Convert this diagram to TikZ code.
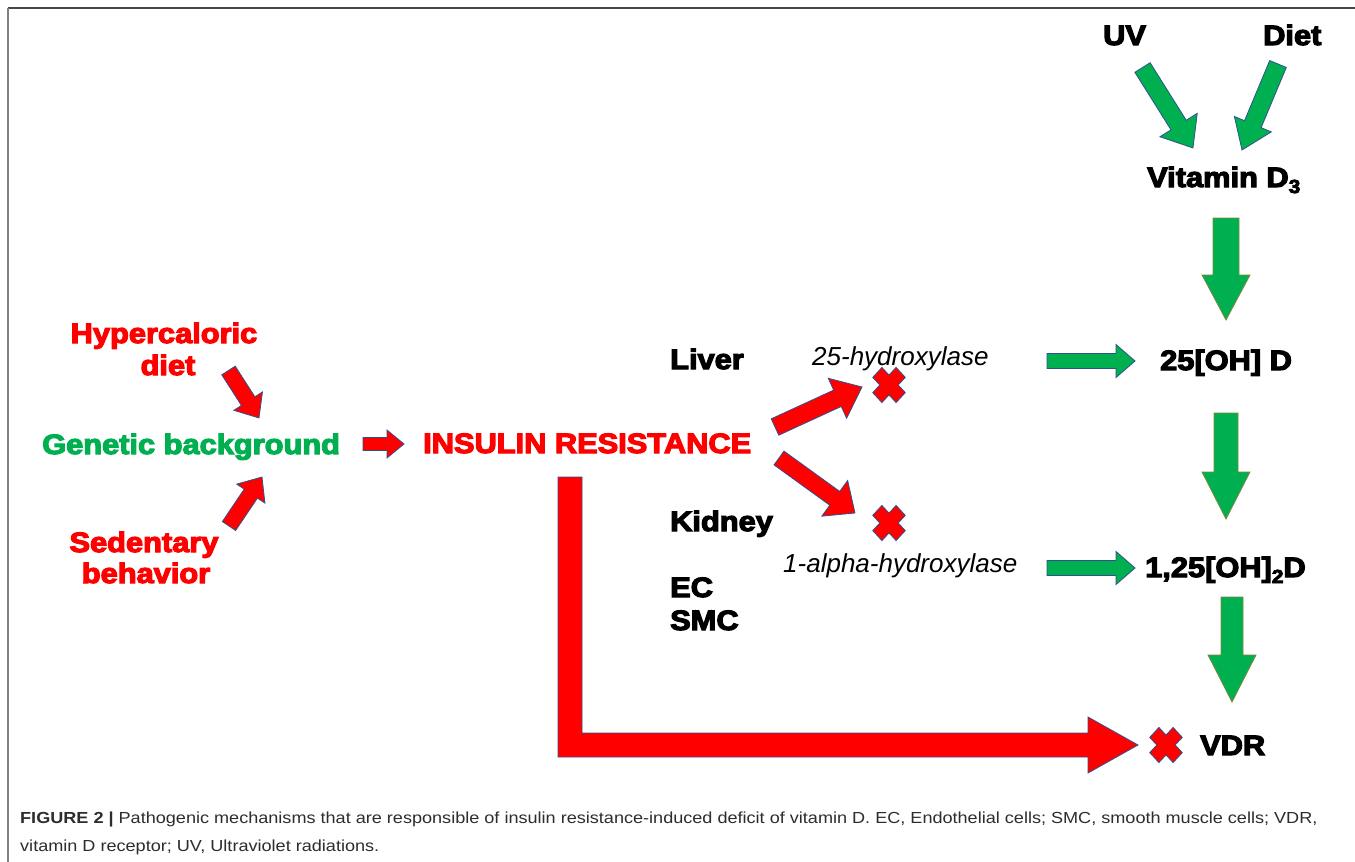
\documentclass[tikz,border=0pt]{standalone}
\usepackage{fontspec}
\setmainfont{Liberation Sans}
\newfontfamily\blk{Liberation Sans}[BoldFeatures={FakeBold=4}]
\usepackage{graphicx}
\definecolor{rd}{RGB}{255,0,0}
\definecolor{gr}{RGB}{0,176,80}
\definecolor{bl}{RGB}{47,82,143}
\definecolor{ol}{RGB}{125,135,60}
\definecolor{frm}{RGB}{70,70,70}
\definecolor{capc}{RGB}{45,45,45}
\newcommand\hv[1]{\scalebox{1.1}[1]{#1}}
\newcommand\cv[1]{\scalebox{1.13}[1]{#1}}
% block arrow: style, x1, y1, x2 (tip), y2, shaft half width, head half width, head length
\newcommand\barrow[8]{%
  \pgfmathsetmacro\bang{atan2(#3-#5,#4-#2)}%
  \pgfmathsetmacro\blen{veclen(#4-#2,#5-#3)}%
  \pgfmathsetmacro\bbase{\blen-#8}%
  \begin{scope}[shift={(#2,#3)},rotate=\bang]
    \draw[#1] (0,#6) -- (\bbase,#6) -- (\bbase,#7) -- (\blen,0) -- (\bbase,-#7) -- (\bbase,-#6) -- (0,-#6) -- cycle;
  \end{scope}}
\newcommand\xmark[2]{%
  \begin{scope}[shift={(#1,#2)},yscale=1.08,rotate=45]
    \draw[xst] (-6.5,-16.5) -- (6.5,-16.5) -- (6.5,-6.5) -- (16.5,-6.5) -- (16.5,6.5) -- (6.5,6.5) -- (6.5,16.5) -- (-6.5,16.5) -- (-6.5,6.5) -- (-16.5,6.5) -- (-16.5,-6.5) -- (-6.5,-6.5) -- cycle;
  \end{scope}}
\tikzset{
  redarr/.style={fill=rd, draw=bl, line width=0.8pt, line join=miter},
  grarr/.style={fill=gr, draw=bl, line width=0.8pt},
  grdown/.style={fill=gr, draw=ol, line width=0.8pt},
  xst/.style={fill=rd, draw=bl, line width=0.8pt},
  heavy/.style={font=\blk\bfseries\fontsize{28}{32}\selectfont, inner sep=0pt, anchor=base west},
  enz/.style={font=\itshape\fontsize{26}{30}\selectfont, inner sep=0pt, anchor=base west},
  capt/.style={font=\fontsize{16}{19}\selectfont, text=capc, inner sep=0pt, anchor=base west}
}
\begin{document}
\begin{tikzpicture}[x=1pt,y=-1pt]
\useasboundingbox (0,0) rectangle (1355,862);
\fill[white] (0,0) rectangle (1355,862);
% frame
\draw[frm, line width=2pt] (8,8) -- (1355,8);
\draw[gray, line width=2pt] (8,8) -- (8,862);

% left text
\node[heavy, text=rd, anchor=base] (hyp1) at (164,343) {\hv{Hypercaloric}};
\node[heavy, text=rd, anchor=base] (hyp2) at (168,375) {\hv{diet}};
\node[heavy, text=gr] (gen) at (42,454) {\hv{Genetic background}};
\node[heavy, text=rd, anchor=base] (sed1) at (144,552) {\hv{Sedentary}};
\node[heavy, text=rd, anchor=base] (sed2) at (146,583) {\hv{behavior}};
\node[heavy, text=rd] (ir) at (423,453) {\hv{INSULIN RESISTANCE}};

% organ labels
\node[heavy] (liver) at (670,369) {\hv{Liver}};
\node[heavy] (kidney) at (670,531) {\hv{Kidney}};
\node[heavy] (ec) at (670,597) {\hv{EC}};
\node[heavy] (smc) at (670,630) {\hv{SMC}};

% enzymes
\node[enz] (h25) at (812,365) {25-hydroxylase};
\node[enz] (h1a) at (783,572) {1-alpha-hydroxylase};

% right column
\node[heavy] (uv) at (1103,45) {\hv{UV}};
\node[heavy] (diet) at (1263,45) {\hv{Diet}};
\node[heavy] (vd3) at (1147,187) {\hv{Vitamin D\raisebox{-6pt}{\fontsize{19}{20}\selectfont 3}}};
\node[heavy] (d25) at (1160,370) {\hv{25[OH] D}};
\node[heavy] (d125) at (1145,577) {\hv{1,25[OH]\raisebox{-6pt}{\fontsize{19}{20}\selectfont 2}D}};
\node[heavy] (vdr) at (1200,755) {\hv{VDR}};

% red arrows (left)
\barrow{redarr}{228.5}{370.5}{259}{418}{8}{17}{20}
\barrow{redarr}{229}{526}{262}{477}{8}{17}{20}
\barrow{redarr}{363}{444}{404}{444}{6.5}{14}{17}
% red arrows to enzymes
\barrow{redarr}{775}{427}{862}{387}{9}{22}{27}
\barrow{redarr}{779}{458}{855}{513}{8.5}{22}{25}
% X marks
\xmark{889}{385}
\xmark{889}{523}
\xmark{1166}{745}
% big L arrow
\draw[redarr] (558,477) -- (582,477) -- (582,733) -- (1088,733) -- (1088,717) -- (1138,745)
  -- (1088,773) -- (1088,757) -- (558,757) -- cycle;

% green arrows
\barrow{grarr}{1142.5}{67.5}{1193}{148}{9}{22}{27}
\barrow{grarr}{1278}{64}{1242}{150}{9}{20}{28}
\barrow{grdown}{1226}{218}{1226}{320}{13}{24}{45}
\barrow{grarr}{1047}{361}{1135}{361}{7.5}{16.5}{19}
\barrow{grdown}{1226}{413}{1226}{519}{12}{24}{47}
\barrow{grarr}{1047}{568}{1135}{568}{7.5}{16.5}{19}
\barrow{grdown}{1232}{597}{1232}{702}{11}{24}{47}

% caption
\node[capt] (cap1) at (20,823) {\cv{\textbf{FIGURE 2 |} Pathogenic mechanisms that are responsible of insulin resistance-induced deficit of vitamin D. EC, Endothelial cells; SMC, smooth muscle cells; VDR,}};
\node[capt] (cap2) at (20,851) {\cv{vitamin D receptor; UV, Ultraviolet radiations.}};
\end{tikzpicture}
\end{document}
